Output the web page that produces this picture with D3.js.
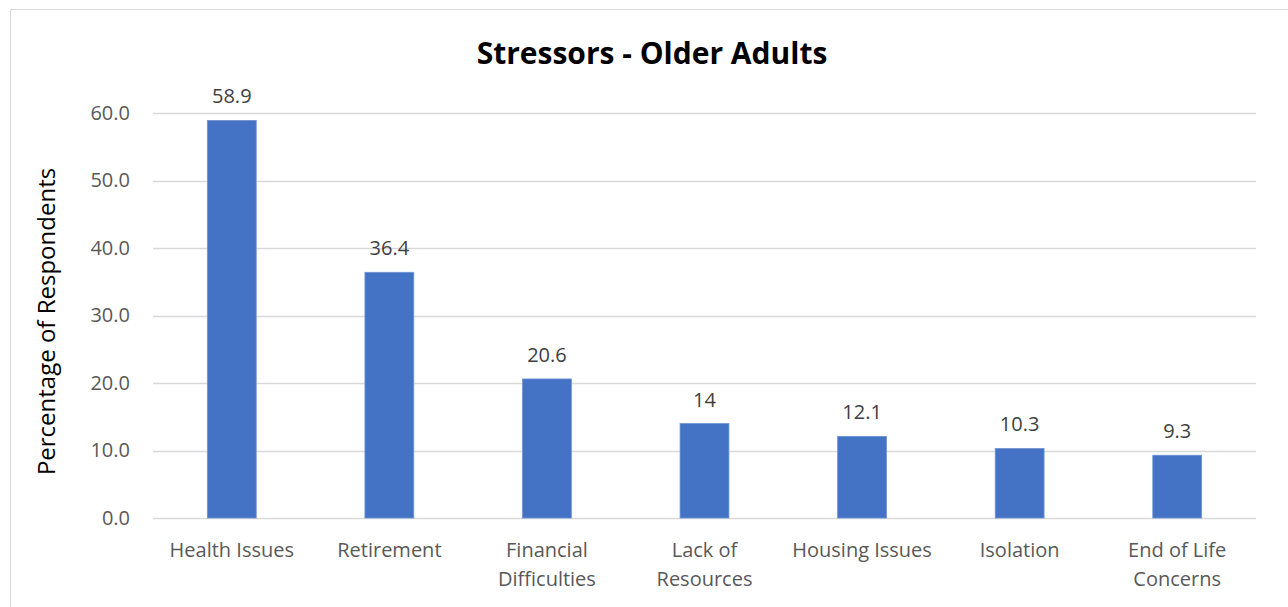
<!DOCTYPE html>
<html>
<head>
<meta charset="utf-8">
<script src="https://cdn.jsdelivr.net/npm/d3@7"></script>
<style>
  html, body { margin: 0; padding: 0; background: #fff; }
  svg { display: block; }
</style>
</head>
<body>
<svg id="chart" width="1288" height="607"></svg>
<script>
// Stressors reported by older adults (% of respondents)
const categories = [
  ["Health Issues"],
  ["Retirement"],
  ["Financial", "Difficulties"],
  ["Lack of", "Resources"],
  ["Housing Issues"],
  ["Isolation"],
  ["End of Life", "Concerns"]
];
const values = [58.9, 36.4, 20.6, 14, 12.1, 10.3, 9.3];
const valueLabels = ["58.9", "36.4", "20.6", "14", "12.1", "10.3", "9.3"];
const yTicks = [0, 10, 20, 30, 40, 50, 60];

const font = "'Open Sans', 'Noto Sans', sans-serif";
const svg = d3.select("#chart");

// chart frame
svg.append("rect")
  .attr("x", 10.5).attr("y", 9.5)
  .attr("width", 1290).attr("height", 610)
  .attr("fill", "#fff").attr("stroke", "#d9d9d9").attr("stroke-width", 1);

const plot = { left: 153, right: 1256, top: 113, bottom: 518 };

const x = d3.scaleBand()
  .domain(d3.range(categories.length))
  .range([plot.left, plot.right])
  .paddingInner(0.69).paddingOuter(0.345);

const y = d3.scaleLinear().domain([0, 60]).range([plot.bottom, plot.top]);

// gridlines
svg.append("g")
  .selectAll("line")
  .data(yTicks)
  .join("line")
  .attr("x1", plot.left).attr("x2", plot.right)
  .attr("y1", d => Math.round(y(d)) + 0.5).attr("y2", d => Math.round(y(d)) + 0.5)
  .attr("stroke", "#d9d9d9").attr("stroke-width", 1.5);

// y axis tick labels
const yAxis = d3.axisLeft(y).tickValues(yTicks).tickFormat(d3.format(".1f")).tickSize(0).tickPadding(0);
const yg = svg.append("g").attr("transform", `translate(${plot.left - 23},0)`).call(yAxis);
yg.select(".domain").remove();
yg.selectAll("text")
  .attr("font-family", font).attr("font-size", 20).attr("fill", "#595959");

// bars
svg.append("g")
  .selectAll("rect")
  .data(values)
  .join("rect")
  .attr("x", (d, i) => x(i))
  .attr("width", x.bandwidth())
  .attr("y", d => y(d))
  .attr("height", d => y(0) - y(d))
  .attr("fill", "#4472c4")
  .attr("stroke", "#6f93d3").attr("stroke-width", 0.8);

// value labels
svg.append("g")
  .selectAll("text")
  .data(values)
  .join("text")
  .attr("x", (d, i) => x(i) + x.bandwidth() / 2)
  .attr("y", d => y(d) - 17)
  .attr("text-anchor", "middle")
  .attr("font-family", font).attr("font-size", 20).attr("fill", "#404040")
  .text((d, i) => valueLabels[i]);

// category labels
const xAxis = d3.axisBottom(x).tickSize(0).tickFormat("");
const xg = svg.append("g").attr("transform", `translate(0,${plot.bottom})`).call(xAxis);
xg.select(".domain").remove();
xg.selectAll(".tick").each(function(i) {
  const t = d3.select(this).append("text")
    .attr("text-anchor", "middle")
    .attr("font-family", font).attr("font-size", 20).attr("fill", "#595959");
  categories[i].forEach((line, k) => {
    t.append("tspan").attr("x", 0).attr("y", 39 + k * 29).text(line);
  });
});

// y axis title
svg.append("text")
  .attr("transform", `translate(55,${(plot.top + plot.bottom) / 2 + 6}) rotate(-90)`)
  .attr("text-anchor", "middle")
  .attr("font-family", font).attr("font-size", 24).attr("fill", "#000")
  .text("Percentage of Respondents");

// title
svg.append("text")
  .attr("x", 652).attr("y", 64)
  .attr("text-anchor", "middle")
  .attr("font-family", font).attr("font-size", 30).attr("font-weight", "bold").attr("fill", "#000")
  .text("Stressors - Older Adults");
</script>
</body>
</html>
